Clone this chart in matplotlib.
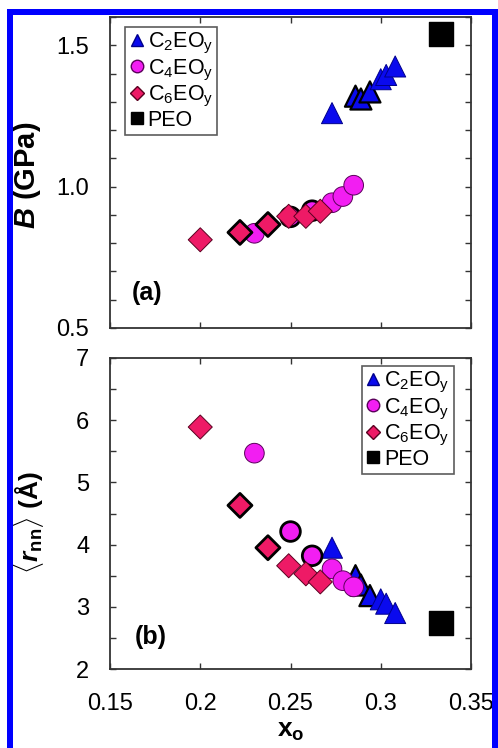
import matplotlib
matplotlib.use("Agg")
import matplotlib.pyplot as plt
from matplotlib.lines import Line2D
from matplotlib.ticker import MultipleLocator

plt.rcParams['font.family'] = ['Liberation Sans', 'DejaVu Sans']
plt.rcParams['mathtext.fontset'] = 'custom'
plt.rcParams['mathtext.rm'] = 'Liberation Sans'
plt.rcParams['mathtext.it'] = 'Liberation Sans:italic:bold'
plt.rcParams['mathtext.bf'] = 'Liberation Sans:bold'

# ---------------- data ----------------
c2_x = [0.273, 0.286, 0.289, 0.294, 0.300, 0.303, 0.308]
c2_B = [1.26, 1.32, 1.31, 1.335, 1.38, 1.395, 1.425]
c2_r = [3.95, 3.50, 3.35, 3.18, 3.12, 3.05, 2.90]

c4_x = [0.230, 0.250, 0.262, 0.273, 0.279, 0.285]
c4_B = [0.835, 0.893, 0.915, 0.943, 0.965, 1.005]
c4_r = [5.47, 4.21, 3.82, 3.61, 3.42, 3.32]

c6_x = [0.200, 0.222, 0.2375, 0.249, 0.2585, 0.2665]
c6_B = [0.812, 0.838, 0.866, 0.895, 0.895, 0.913]
c6_r = [5.89, 4.63, 3.95, 3.66, 3.53, 3.40]

peo_x = [0.3333]
peo_B = [1.54]
peo_r = [2.74]

series_labels = ['C$_2$EO$_\\mathrm{y}$', 'C$_4$EO$_\\mathrm{y}$', 'C$_6$EO$_\\mathrm{y}$', 'PEO']
xticks = [0.15, 0.2, 0.25, 0.3, 0.35]
xtick_labels = ['0.15', '0.2', '0.25', '0.3', '0.35']

# edge emphasis (style)
c2_lw = [0.7, 1.6, 1.6, 1.6, 0.7, 0.7, 0.7]
c4_lw = [0.7, 2.0, 2.0, 0.7, 0.7, 0.7]
c6_lw = [0.7, 2.0, 2.0, 0.7, 0.7, 0.7]

blue = '#0a0aee'
mag = '#f21ef2'
pink = '#ee1a66'

fig = plt.figure(figsize=(4.98, 7.48), dpi=100)
W, H = 498, 748
axL, axR = 110, 471
ax1 = fig.add_axes([axL / W, 1 - 328 / H, (axR - axL) / W, 311 / H])
ax2 = fig.add_axes([axL / W, 1 - 669 / H, (axR - axL) / W, 311 / H])


def edgecols(lws, thin):
    return ['black' if lw > 1 else thin for lw in lws]


def draw(ax, yc2, yc4, yc6, ypeo):
    ax.scatter(c2_x, yc2, marker='^', s=230, c=blue, edgecolors=edgecols(c2_lw, '#00008a'),
               linewidths=c2_lw, zorder=3)
    ax.scatter(c4_x, yc4, marker='o', s=200, c=mag, edgecolors=edgecols(c4_lw, '#5a005a'),
               linewidths=c4_lw, zorder=4)
    ax.scatter(c6_x, yc6, marker='D', s=150, c=pink, edgecolors=edgecols(c6_lw, '#5a0020'),
               linewidths=c6_lw, zorder=5)
    ax.scatter(peo_x, ypeo, marker='s', s=290, c='black', edgecolors='black', zorder=6)
    ax.set_xlim(0.15, 0.35)
    ax.set_xticks(xticks)
    ax.tick_params(which='both', direction='in', top=True, right=True, length=4.5, width=1,
                   labelsize=17, color='#333333')
    ax.tick_params(axis='y', pad=15)
    ax.tick_params(axis='x', pad=17)
    for sp in ax.spines.values():
        sp.set_linewidth(1.3)
        sp.set_color('#333333')
    handles = [
        Line2D([], [], marker='^', ls='none', color=blue, mec='#00008a', ms=9),
        Line2D([], [], marker='o', ls='none', color=mag, mec='#5a005a', ms=9),
        Line2D([], [], marker='D', ls='none', color=pink, mec='#5a0020', ms=7),
        Line2D([], [], marker='s', ls='none', color='black', ms=9),
    ]
    return handles


def legend(ax, h, loc, anchor):
    leg = ax.legend(h, series_labels, loc=loc, bbox_to_anchor=anchor,
                    fontsize=15.5, frameon=True, fancybox=False, borderpad=0.2,
                    labelspacing=0.05, handlelength=0.7, handletextpad=0.15,
                    borderaxespad=0.0)
    leg.get_frame().set_edgecolor('#333333')
    leg.get_frame().set_linewidth(1.2)
    leg.set_zorder(10)
    return leg


h = draw(ax1, c2_B, c4_B, c6_B, peo_B)
ax1.set_ylim(0.5, 1.6)
ax1.set_yticks([0.5, 1.0, 1.5])
ax1.set_yticklabels(['0.5', '1.0', '1.5'])
ax1.yaxis.set_minor_locator(MultipleLocator(0.1))
ax1.set_xticklabels([])
ax1.set_ylabel(r'$\mathit{B}$ (GPa)', fontsize=21, fontweight='bold')
ax1.yaxis.set_label_coords(-0.185, 0.49)
ax1.text(0.06, 0.113, '(a)', transform=ax1.transAxes, fontsize=18, fontweight='bold',
         va='center', ha='left')
legend(ax1, h, 'upper left', ((125 - axL) / 361, (328 - 27) / 311))

draw(ax2, c2_r, c4_r, c6_r, peo_r)
ax2.set_ylim(2, 7)
ax2.set_yticks([2, 3, 4, 5, 6, 7])
ax2.yaxis.set_minor_locator(MultipleLocator(0.5))
ax2.set_xticklabels(xtick_labels)
ax2.set_ylabel(r'$\langle \mathit{r}_{\mathbf{nn}} \rangle$ (Å)', fontsize=19, fontweight='bold')
ax2.yaxis.set_label_coords(-0.178, 0.47)
ax2.set_xlabel(r'$\mathbf{x}_{\mathbf{o}}$', fontsize=19)
ax2.xaxis.set_label_coords(0.5, -0.16)
ax2.text(0.068, 0.103, '(b)', transform=ax2.transAxes, fontsize=18, fontweight='bold',
         va='center', ha='left')
legend(ax2, h, 'upper right', ((454 - axL) / 361, (669 - 366) / 311))

# blue frame around figure
lw_px = 6
for xs, ys in [([10, 10], [12, H + 10]), ([7, 498], [12, 12]), ([495, 495], [12, H + 10])]:
    fig.add_artist(Line2D([x / W for x in xs], [1 - y / H for y in ys],
                          transform=fig.transFigure, color='#0000ff',
                          linewidth=lw_px * 0.72, solid_capstyle='butt', zorder=20))

fig.savefig('out.png', dpi=100)
